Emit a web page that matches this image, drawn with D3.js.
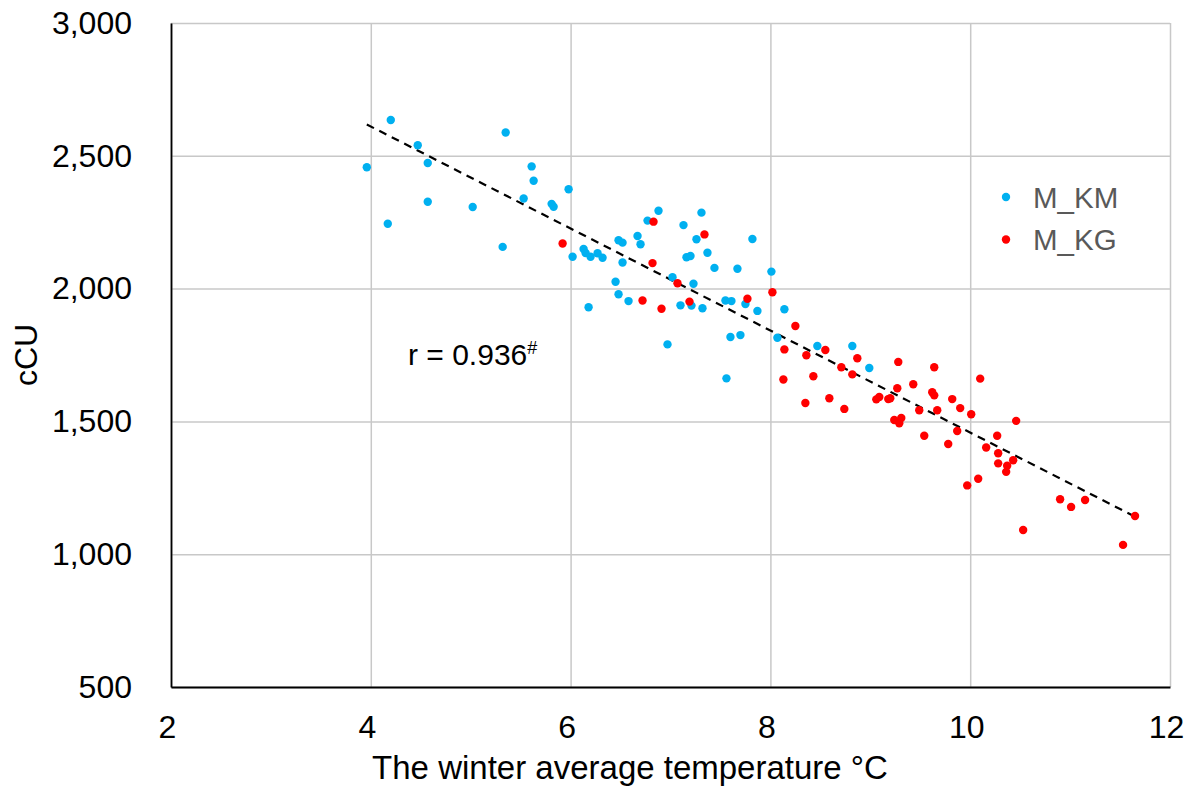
<!DOCTYPE html>
<html><head><meta charset="utf-8">
<script src="https://cdn.jsdelivr.net/npm/d3@7"></script>
<style>
body{margin:0;background:#fff;}
text{font-family:"Liberation Sans",Arial,sans-serif;}
</style></head>
<body><svg id="c" width="1194" height="790"></svg>
<script>
const xTicks = [2,4,6,8,10,12];
const yTicks = [500,1000,1500,2000,2500,3000];
const seriesNames = ["M_KM","M_KG"];
const kmX = [3.96,4.20,4.17,4.47,4.57,4.57,5.02,5.35,5.32,5.53,5.61,5.63,5.81,5.83,5.98,6.02,6.13,6.15,6.20,6.27,6.32,6.18,6.45,6.48,6.58,6.48,6.52,6.52,6.67,6.70,6.77,6.88,6.97,7.02,7.13,7.31,7.26,7.16,7.20,7.37,7.23,7.10,7.21,7.32,7.44,7.67,7.82,8.01,7.55,7.61,7.75,7.87,8.14,7.60,7.70,7.56,8.07,8.47,8.82,8.99];
const kmY = [2457,2635,2244,2540,2473,2327,2307,2588,2157,2339,2460,2406,2319,2308,2374,2120,2149,2134,2120,2133,2116,1930,2026,1979,1953,2182,2173,2098,2198,2167,2256,2293,1790,2043,2239,2286,2186,2118,2123,2135,2018,1937,1936,1926,2078,2075,2187,2064,1955,1953,1942,1916,1922,1818,1825,1662,1815,1784,1784,1701];
const kgX = [5.92,6.72,6.83,6.82,6.91,7.07,7.34,7.19,8.02,7.77,8.25,8.14,8.36,8.13,8.43,8.55,8.35,8.59,8.74,8.71,8.82,8.87,9.06,9.09,9.18,9.20,9.28,9.27,9.24,9.29,9.31,9.43,9.49,9.54,9.64,9.62,9.64,9.67,9.78,9.82,9.87,9.90,10.01,10.10,9.97,10.08,10.16,10.27,10.28,10.28,10.37,10.36,10.43,10.46,10.90,11.01,11.15,11.65,10.53,11.53];
const kgY = [2170,1955,2252,2096,1924,2020,2204,1951,1986,1962,1859,1771,1749,1658,1670,1769,1569,1587,1547,1704,1677,1738,1583,1592,1584,1587,1724,1625,1505,1493,1513,1640,1542,1446,1704,1610,1598,1542,1415,1584,1464,1550,1527,1661,1259,1284,1402,1446,1380,1342,1333,1310,1354,1502,1207,1178,1204,1144,1091,1035];
const colors = ["#00B0F0","#FF0000"];

const svg = d3.select("#c");
const L=171, R=1170, T=23, B=687;
const x = d3.scaleLinear().domain([2,12]).range([L,R]);
const y = d3.scaleLinear().domain([500,3000]).range([B,T]);

// gridlines
svg.append("g").attr("transform",`translate(0,${B})`)
  .call(d3.axisBottom(x).tickValues(xTicks).tickSize(-(B-T)).tickFormat(""))
  .call(g=>{g.select(".domain").remove();g.selectAll("line").attr("stroke","#c8c8c8").attr("stroke-width",1.5);});
svg.append("g").attr("transform",`translate(${L},0)`)
  .call(d3.axisLeft(y).tickValues(yTicks).tickSize(-(R-L)).tickFormat(""))
  .call(g=>{g.select(".domain").remove();g.selectAll("line").attr("stroke","#c8c8c8").attr("stroke-width",1.5);});

// axes
svg.append("g").attr("transform",`translate(0,${B})`)
  .call(d3.axisBottom(x).tickValues(xTicks).tickSize(0).tickPadding(28).tickFormat(d3.format("d")))
  .call(g=>{g.select(".domain").attr("stroke","#000").attr("stroke-width",1.8);
    g.selectAll("text").attr("font-size",32).attr("fill","#000").attr("font-family","Liberation Sans, Arial, sans-serif").attr("dx",-4);});
svg.append("g").attr("transform",`translate(${L},0)`)
  .call(d3.axisLeft(y).tickValues(yTicks).tickSize(0).tickPadding(39).tickFormat(d3.format(",")))
  .call(g=>{g.select(".domain").attr("stroke","#000").attr("stroke-width",1.8);
    g.selectAll("text").attr("font-size",32).attr("fill","#000").attr("font-family","Liberation Sans, Arial, sans-serif");});

// trendline (least squares on all points)
const allX = kmX.concat(kgX), allY = kmY.concat(kgY);
const mx = d3.mean(allX), my = d3.mean(allY);
let sxy=0,sxx=0; allX.forEach((v,i)=>{sxy+=(v-mx)*(allY[i]-my); sxx+=(v-mx)*(v-mx);});
const slope = sxy/sxx, icpt = my - slope*mx;
const [x0,x1] = d3.extent(allX);
svg.append("line").attr("x1",x(x0)).attr("y1",y(icpt+slope*x0)).attr("x2",x(x1)).attr("y2",y(icpt+slope*x1))
  .attr("stroke","#000").attr("stroke-width",2.2).attr("stroke-dasharray","8,6");

// points
const series = [kmX.map((v,i)=>({x:v,y:kmY[i]})), kgX.map((v,i)=>({x:v,y:kgY[i]}))];
series.forEach((s,k)=>{
  svg.append("g").selectAll("circle").data(s).join("circle")
    .attr("cx",d=>x(d.x)).attr("cy",d=>y(d.y)).attr("r",4.2).attr("fill",colors[k]);
});

// legend
seriesNames.forEach((n,k)=>{
  const ly = 197 + k*42.5;
  svg.append("circle").attr("cx",1006).attr("cy",ly).attr("r",4.2).attr("fill",colors[k]);
  svg.append("text").attr("x",1033).attr("y",ly+10.5).attr("font-size",29.5).attr("fill","#595959").text(n);
});

// annotation
const ann = svg.append("text").attr("x",408).attr("y",365).attr("font-size",30).attr("fill","#000");
ann.append("tspan").text("r = 0.936");
ann.append("tspan").attr("dy",-11).attr("font-size",18).text("#");

// axis titles
svg.append("text").attr("x",630).attr("y",779).attr("text-anchor","middle").attr("font-size",33).attr("fill","#000")
  .text("The winter average temperature °C");
svg.append("text").attr("transform","translate(37,355) rotate(-90)").attr("text-anchor","middle").attr("font-size",32).attr("fill","#000")
  .text("cCU");
</script></body></html>
